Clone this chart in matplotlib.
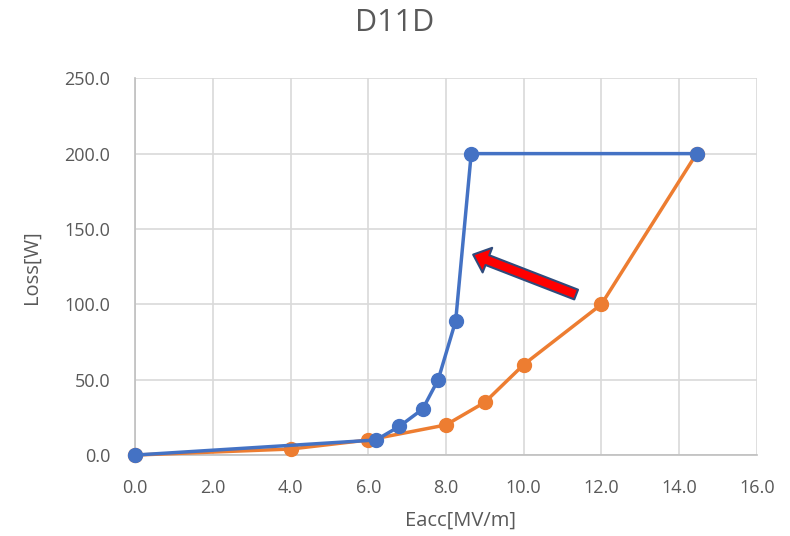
"""Excel-style loss vs. accelerating field chart for cavity D11D."""

import matplotlib

matplotlib.use("Agg")

import matplotlib.pyplot as plt

INK = "#595959"
GRID = "#D9D9D9"
BLUE, ORANGE = "#4472C4", "#ED7D31"

# orange trace (drawn underneath)
orange_eacc = [0.0, 4.0, 6.0, 8.0, 9.0, 10.0, 12.0, 14.45]
orange_loss = [0.0, 4.0, 10.0, 20.0, 35.0, 60.0, 100.0, 200.0]

# blue trace
blue_eacc = [0.0, 6.2, 6.8, 7.4, 7.8, 8.25, 8.65, 14.45]
blue_loss = [0.0, 10.0, 19.0, 30.5, 50.0, 89.0, 200.0, 200.0]

x_ticks = [0, 2, 4, 6, 8, 10, 12, 14, 16]
y_ticks = [0, 50, 100, 150, 200, 250]

# arrow annotation: tail and tip in data units
arrow_tail = (11.35, 106.5)
arrow_tip = (8.7, 133.0)

plt.rcParams["font.family"] = ["Open Sans", "DejaVu Sans"]

fig = plt.figure(figsize=(7.9, 5.36), dpi=100, facecolor="white")
ax = fig.add_axes([0.171, 0.151, 0.787, 0.703])

ax.plot(orange_eacc, orange_loss, color=ORANGE, lw=2.5, marker="o", ms=10,
        solid_capstyle="round", zorder=3, clip_on=False)
ax.plot(blue_eacc, blue_loss, color=BLUE, lw=2.5, marker="o", ms=10,
        solid_capstyle="round", zorder=4, clip_on=False)

# block arrow sized in points so the axes aspect does not distort it
ax.annotate("", xy=arrow_tip, xytext=arrow_tail,
            arrowprops=dict(arrowstyle="simple,head_length=1.1,head_width=1.9,tail_width=0.75",
                            mutation_scale=10, facecolor="#FF0000", edgecolor="#2F4B7C",
                            lw=1.5, shrinkA=0, shrinkB=0),
            zorder=5)

ax.set_xlim(0, 16)
ax.set_ylim(0, 250)
ax.set_xticks(x_ticks, [f"{v:.1f}" for v in x_ticks])
ax.set_yticks(y_ticks, [f"{v:.1f}" for v in y_ticks])
ax.tick_params(length=0, labelsize=13, colors=INK)
ax.tick_params(axis="x", pad=17)
ax.tick_params(axis="y", pad=18)
ax.grid(True, color=GRID, lw=1.2, zorder=0)
ax.set_axisbelow(True)
for side in ("top", "right"):
    ax.spines[side].set_visible(False)
for side in ("left", "bottom"):
    ax.spines[side].set_color("#BFBFBF")
    ax.spines[side].set_linewidth(1.2)

ax.set_xlabel("Eacc[MV/m]", fontsize=14.5, color=INK)
ax.xaxis.set_label_coords(0.523, -0.148)
ax.set_ylabel("Loss[W]", fontsize=14.5, color=INK)
ax.yaxis.set_label_coords(-0.15, 0.5)
fig.text(0.5, 0.957, "D11D", ha="center", va="center", fontsize=22, color=INK)

fig.savefig("out.png", dpi=100, facecolor="white")
